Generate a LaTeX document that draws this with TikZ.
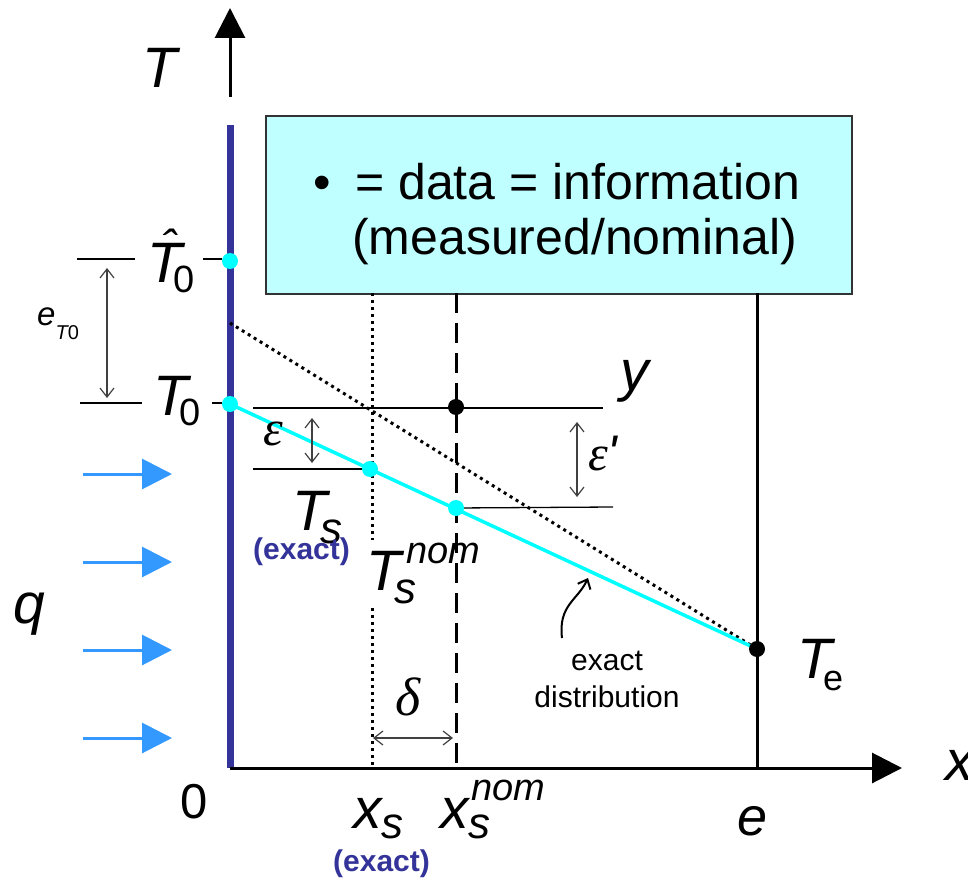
\documentclass[tikz,border=0pt]{standalone}
\usepackage{fontspec}
\setmainfont{Liberation Sans}
\newfontfamily\grk{Liberation Serif}
\usetikzlibrary{arrows.meta}
\definecolor{wallblue}{HTML}{333399}
\definecolor{heatblue}{HTML}{3399FF}
\definecolor{boxfill}{HTML}{C0FFFF}
\definecolor{dimgray}{HTML}{404040}
\definecolor{boxedge}{HTML}{333333}
\definecolor{aqua}{HTML}{00FFFF}
\newcommand\fsz[1]{\fontsize{#1}{#1}\selectfont}
\begin{document}
\begin{tikzpicture}[x=1pt,y=-1pt,
 lbl/.style={inner sep=0pt, anchor=base west, font=\fsz{57}\itshape},
 axisline/.style={line width=3pt, -{Triangle[length=30pt,width=30pt]}},
 thinline/.style={line width=1.3pt},
 dimarrow/.style={line width=1.2pt, draw=dimgray, {Straight Barb[length=9pt,width=14pt]}-{Straight Barb[length=9pt,width=14pt]}},
 heat/.style={line width=3pt, draw=heatblue, -{Triangle[length=30pt,width=30pt]}},
 cdot/.style={circle, fill=aqua, minimum size=16pt, inner sep=0pt},
 bdot/.style={circle, fill=black, minimum size=16pt, inner sep=0pt},
 dotline/.style={line width=3pt, dash pattern=on 3pt off 4pt},
 dashline/.style={line width=3pt, dash pattern=on 20pt off 10pt},
 exactlbl/.style={inner sep=0pt, anchor=base west, font=\fsz{30}\bfseries, text=wallblue},
 smalltxt/.style={inner sep=0pt, anchor=base, font=\fsz{30}},
]
\useasboundingbox (0,0) rectangle (968,882);

% ---- coordinates
\coordinate (Tbot) at (230,97);
\coordinate (Ttop) at (230,8);
\coordinate (O) at (230,768);
\coordinate (Xend) at (902,768);
\coordinate (Wtop) at (230,125);
\coordinate (Etop) at (757,293);
\coordinate (Ebot) at (757,768);
\coordinate (DSt) at (372,293);
\coordinate (DSb) at (372,768);
\coordinate (DNt) at (456,293);
\coordinate (DNb) at (456,768);
\coordinate (Dg) at (230,323);
\coordinate (cT0hat) at (230,261);
\coordinate (cT0) at (230,404);
\coordinate (cTs) at (370,469);
\coordinate (cTsnom) at (456,508);
\coordinate (cY) at (456,407);
\coordinate (cTe) at (757,649);

% ---- info box
\node[draw=boxedge, fill=boxfill, line width=2pt, minimum width=586pt, minimum height=178pt,
      anchor=north west, inner sep=0pt] (box) at (265,115) {};
\node[inner sep=0pt, anchor=base west, font=\fsz{50}] (bul) at (313,200) {•};
\node[inner sep=0pt, anchor=base west, font=\fsz{50}] (line1) at (355,200) {= data = information};
\node[inner sep=0pt, anchor=base west, font=\fsz{50}] (line2) at (352,255) {(measured/nominal)};

% ---- axes and wall
\draw[axisline] (Tbot) -- (Ttop);
\draw[line width=7pt, wallblue] (Wtop) -- (O);
\draw[axisline] (O) -- (Xend);
\draw[line width=3pt] (Etop) -- (Ebot);

% ---- vertical position lines
\draw[dotline] (DSt) -- (DSb);
\draw[dashline] (DNt) -- (DNb);

% ---- distributions
\draw[dotline] (Dg) -- (cTe);
\draw[line width=3.5pt, aqua] (cT0) -- (cTe);

% ---- horizontal reference lines
\coordinate (h1a) at (77,259);  \coordinate (h1b) at (135,259);
\coordinate (h2a) at (203,259); \coordinate (h2b) at (222,259);
\coordinate (h3a) at (80,403);  \coordinate (h3b) at (142,403);
\coordinate (h4a) at (212,403); \coordinate (h4b) at (222,403);
\coordinate (h5a) at (253,408); \coordinate (h5b) at (603,408);
\coordinate (h6a) at (253,469);
\coordinate (h7b) at (613,507);
\draw[thinline] (h1a) -- (h1b);
\draw[thinline] (h2a) -- (h2b);
\draw[thinline] (h3a) -- (h3b);
\draw[thinline] (h4a) -- (h4b);
\draw[thinline] (h5a) -- (h5b);
\draw[thinline] (h6a) -- (cTs);
\draw[thinline] (cTsnom) -- (h7b);

% ---- dimension arrows
\coordinate (a1a) at (107,268); \coordinate (a1b) at (107,398);
\coordinate (a2a) at (312,418); \coordinate (a2b) at (312,463);
\coordinate (a3a) at (577,422); \coordinate (a3b) at (577,497);
\coordinate (a4a) at (373,738); \coordinate (a4b) at (453,738);
\draw[dimarrow] (a1a) -- (a1b);
\draw[dimarrow] (a2a) -- (a2b);
\draw[dimarrow] (a3a) -- (a3b);
\draw[dimarrow] (a4a) -- (a4b);

% ---- heat flux arrows
\foreach \yy/\nm in {474/1,562/2,650/3,738/4}{
  \coordinate (hs\nm) at (83,\yy);
  \coordinate (he\nm) at (172,\yy);
  \draw[heat] (hs\nm) -- (he\nm);
}

% ---- curved pointer
\coordinate (ca1) at (562,638);
\coordinate (ca2) at (588,578);
\draw[line width=2pt, -{Straight Barb[length=8pt,width=14pt]}] (ca1) .. controls (558,605) and (578,600) .. (ca2);

% ---- labels
\node[lbl] (lT) at (142,88) {T};
\node[lbl] (lT0hat) at (147,283) {\rlap{\kern14pt\raisebox{20pt}{\fsz{46}ˆ}}T\kern-9pt\raisebox{-10pt}{\fsz{38}\upshape 0}};
\node[lbl] (lT0) at (153,415) {T\kern-9pt\raisebox{-10pt}{\fsz{38}\upshape 0}};
\node[lbl] (leT0) at (37,325) {\fsz{33}e\raisebox{-14pt}{\fsz{20}T\upshape 0}};
\node[lbl] (lTs) at (292,530) {T\kern-7pt\raisebox{-13pt}{\fsz{44}s}};
\node[lbl, fill=white, inner sep=3pt] (lTsnom) at (363,590) {T\rlap{\kern5pt\raisebox{27pt}{\fsz{38}nom}}\kern-7pt\raisebox{-13pt}{\fsz{44}s}};
\node[exactlbl] (ex1) at (253,559) {(exact)};
\node[lbl] (lxs) at (353,828) {x\raisebox{-10pt}{\fsz{44}s}};
\node[lbl] (lxsnom) at (440,828) {x\rlap{\kern3pt\raisebox{28pt}{\fsz{38}nom}}\raisebox{-10pt}{\fsz{44}s}};
\node[exactlbl] (ex2) at (333,871) {(exact)};
\node[inner sep=0pt, anchor=base west, font=\fsz{49}] (l0) at (180,818) {0};
\node[inner sep=0pt, anchor=base west, font=\fsz{54}\itshape] (le) at (737,835) {e};
\node[lbl] (lx) at (945,780) {x};
\node[lbl] (lq) at (13,623) {q};
\node[lbl] (ly) at (620,390) {y};
\node[lbl] (lTe) at (797,678) {T\kern-9pt\raisebox{-12pt}{\fsz{36}\upshape e}};
\node[inner sep=0pt, anchor=base west, font=\fsz{50}\grk\itshape] (leps) at (263,445) {ε};
\node[inner sep=0pt, anchor=base west, font=\fsz{50}\grk\itshape] (leps2) at (588,470) {ε{\fontspec{Liberation Sans}\itshape\textquotesingle}};
\node[inner sep=0pt, anchor=base west, font=\fsz{54}\grk\itshape] (ldelta) at (395,715) {δ};
\node[smalltxt] (ed1) at (607,670) {exact};
\node[smalltxt] (ed2) at (607,707) {distribution};

% ---- data points
\node[cdot] (T0hat) at (cT0hat) {};
\node[cdot] (T0) at (cT0) {};
\node[cdot] (Ts) at (cTs) {};
\node[cdot] (Tsnom) at (cTsnom) {};
\node[bdot] (Y) at (cY) {};
\node[bdot] (Te) at (cTe) {};
\end{tikzpicture}
\end{document}
